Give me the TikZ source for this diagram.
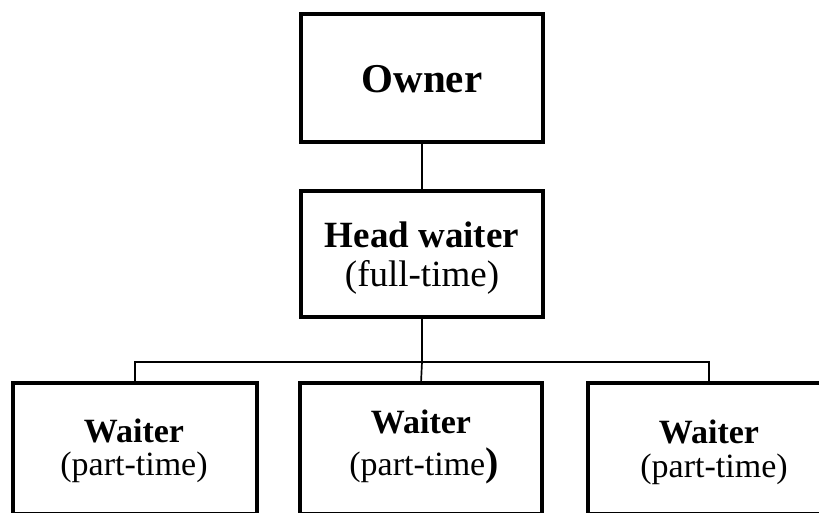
\documentclass[tikz,border=0pt]{standalone}
\usepackage{fontspec}
\setmainfont{Liberation Serif}
\begin{document}
\begin{tikzpicture}[x=1pt,y=-1pt,
  box/.style={draw,line width=3.2pt,minimum width=#1,inner sep=0pt,outer sep=0pt},
  conn/.style={line width=1.7pt},
  lbl/.style={anchor=base,inner sep=0pt}]
\useasboundingbox (0,0) rectangle (819,512);
\clip (0,0) rectangle (819,512);
% boxes
\node[box=242pt,minimum height=128pt] (owner) at (422,78) {};
\node[box=242pt,minimum height=126pt] (head) at (422,254) {};
\node[box=244pt,minimum height=131pt] (wl) at (135,448.5) {};
\node[box=242pt,minimum height=131pt] (wm) at (421,448.5) {};
\node[box=242pt,minimum height=131pt] (wr) at (709,448.5) {};
% texts
\node[lbl,font=\fontsize{41}{46}\selectfont\bfseries] (towner) at (422,92) {Owner};
\node[lbl,font=\fontsize{37}{42}\selectfont\bfseries] (thead1) at (422,247) {Head waiter};
\node[lbl,font=\fontsize{37}{42}\selectfont] (thead2) at (422,286) {(full-time)};
\node[lbl,font=\fontsize{34}{40}\selectfont\bfseries] (tl1) at (134,442) {Waiter};
\node[lbl,font=\fontsize{34}{40}\selectfont] (tl2) at (134,475) {(part-time)};
\node[lbl,font=\fontsize{34}{40}\selectfont\bfseries] (tm1) at (421,433) {Waiter};
\node[lbl,font=\fontsize{34}{40}\selectfont] (tm2) at (424,475) {(part-time{\fontsize{40}{44}\selectfont\bfseries)}};
\node[lbl,font=\fontsize{34}{40}\selectfont\bfseries] (tr1) at (709,443) {Waiter};
\node[lbl,font=\fontsize{34}{40}\selectfont] (tr2) at (714,477) {(part-time)};
% connectors
\coordinate (bar) at (422,362);
\draw[conn] (owner.south) -- (head.north);
\draw[conn] (head.south) -- (bar);
\draw[conn] (bar) -- (wm.north);
\draw[conn] (wl.north) |- (bar) -| (wr.north);
\end{tikzpicture}
\end{document}
